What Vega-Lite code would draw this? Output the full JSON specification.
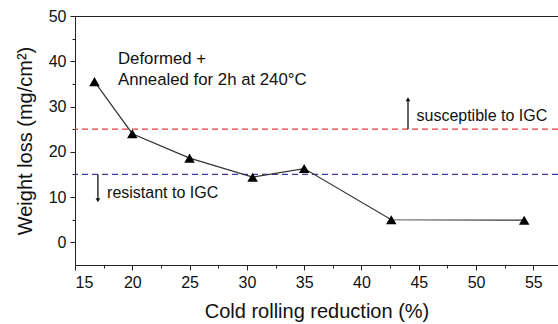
{
  "$schema": "https://vega.github.io/schema/vega-lite/v6.json",
  "width": 483,
  "height": 249,
  "autosize": {"type": "none"},
  "padding": {"left": 75, "top": 16, "right": 0, "bottom": 59},
  "background": "white",
  "config": {
    "view": {"stroke": null},
    "font": "Liberation Sans",
    "axis": {"grid": false, "domainColor": "#222", "tickColor": "#222", "labelColor": "#111", "titleColor": "#111", "labelFont": "Liberation Sans", "titleFont": "Liberation Sans", "titleFontWeight": "normal"}
  },
  "datasets": {
    "points": [
      {"reduction": 16.7, "loss": 35.5},
      {"reduction": 20.0, "loss": 24.0},
      {"reduction": 25.0, "loss": 18.6},
      {"reduction": 30.5, "loss": 14.4},
      {"reduction": 35.0, "loss": 16.3},
      {"reduction": 42.6, "loss": 5.0},
      {"reduction": 54.2, "loss": 4.9}
    ],
    "thresholds": [
      {"level": 25, "kind": "susceptible"},
      {"level": 15, "kind": "resistant"}
    ],
    "labels": [
      {"x": 18.75, "y": 40.6, "text": "Deformed +", "size": 16.8},
      {"x": 18.75, "y": 35.9, "text": "Annealed for 2h at 240°C", "size": 16.8},
      {"x": 44.8, "y": 28.0, "text": "susceptible to IGC", "size": 16},
      {"x": 17.8, "y": 11.0, "text": "resistant to IGC", "size": 16}
    ],
    "arrows": [
      {"x": 44.06, "from": 25, "to": 31.6, "head": "triangle-up"},
      {"x": 17.0, "from": 15, "to": 9.3, "head": "triangle-down"}
    ]
  },
  "layer": [
    {
      "data": {"name": "thresholds"},
      "mark": {"type": "rule", "strokeDash": [6, 4], "strokeWidth": 1.3},
      "encoding": {
        "y": {"field": "level", "type": "quantitative", "scale": {"domain": [-5, 50], "nice": false, "zero": false},
          "axis": {"orient": "left", "values": [0, 10, 20, 30, 40, 50], "tickSize": 5, "labelFontSize": 16, "labelPadding": 4, "title": "Weight loss (mg/cm²)", "titleFontSize": 20, "titlePadding": 13}},
        "color": {"field": "kind", "type": "nominal", "scale": {"domain": ["susceptible", "resistant"], "range": ["#e8383a", "#3a3aa8"]}, "legend": null}
      }
    },
    {
      "data": {"name": "points"},
      "mark": {"type": "line", "color": "#333", "strokeWidth": 1.2},
      "encoding": {
        "x": {"field": "reduction", "type": "quantitative", "scale": {"domain": [15, 57.15], "nice": false, "zero": false},
          "axis": {"orient": "bottom", "values": [15, 20, 25, 30, 35, 40, 45, 50, 55], "tickSize": 5, "labelFontSize": 16, "labelPadding": 4, "title": "Cold rolling reduction (%)", "titleFontSize": 20, "titlePadding": 11}},
        "y": {"field": "loss", "type": "quantitative",
          "axis": {"orient": "left", "values": [5, 15, 25, 35, 45], "tickSize": 3, "labels": false, "domain": false, "title": null}}
      }
    },
    {
      "data": {"name": "points"},
      "mark": {"type": "point", "shape": "triangle-up", "filled": true, "color": "black", "opacity": 1, "size": 110},
      "encoding": {
        "x": {"field": "reduction", "type": "quantitative",
          "axis": {"orient": "bottom", "values": [17.5, 22.5, 27.5, 32.5, 37.5, 42.5, 47.5, 52.5, 57.5], "tickSize": 3, "labels": false, "domain": false, "title": null}},
        "y": {"field": "loss", "type": "quantitative",
          "axis": {"orient": "right", "labels": false, "ticks": false, "domain": false, "title": null}}
      }
    },
    {
      "data": {"name": "labels"},
      "mark": {"type": "text", "align": "left", "baseline": "middle", "color": "#111", "font": "Liberation Sans"},
      "encoding": {
        "x": {"field": "x", "type": "quantitative",
          "axis": {"orient": "top", "labels": false, "ticks": false, "title": null, "domainColor": "#222"}},
        "y": {"field": "y", "type": "quantitative", "axis": null},
        "text": {"field": "text"},
        "size": {"field": "size", "type": "quantitative", "scale": null}
      }
    },
    {
      "data": {"name": "arrows"},
      "mark": {"type": "rule", "color": "#111", "strokeWidth": 1.3},
      "encoding": {
        "x": {"field": "x", "type": "quantitative", "axis": null},
        "y": {"field": "from", "type": "quantitative", "axis": null},
        "y2": {"field": "to"}
      }
    },
    {
      "data": {"name": "arrows"},
      "mark": {"type": "point", "filled": true, "color": "#111", "opacity": 1, "size": 22},
      "encoding": {
        "x": {"field": "x", "type": "quantitative", "axis": null},
        "y": {"field": "to", "type": "quantitative", "axis": null},
        "shape": {"field": "head", "type": "nominal", "scale": null}
      }
    }
  ],
  "resolve": {"axis": {"x": "independent", "y": "independent"}}
}
